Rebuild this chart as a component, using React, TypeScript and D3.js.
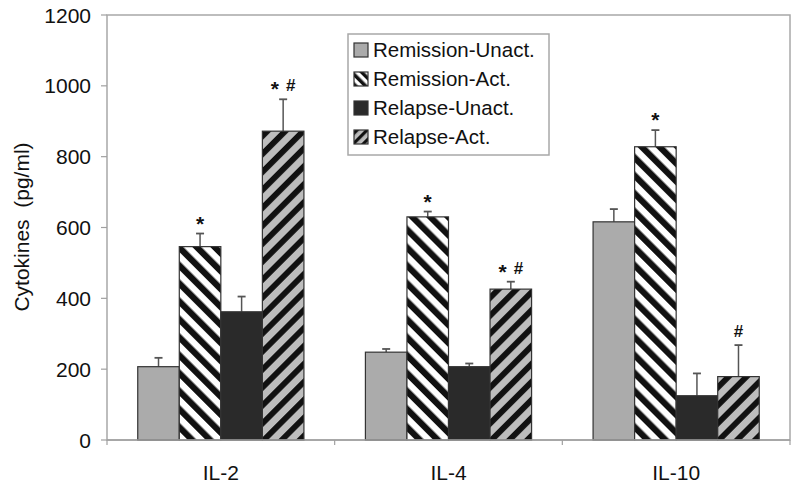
import React from "react";
import * as d3 from "d3";

const groups = ["IL-2", "IL-4", "IL-10"];
const series = ["Remission-Unact.", "Remission-Act.", "Relapse-Unact.", "Relapse-Act."];
const remissionUnact = [207, 248, 616];
const remissionAct = [546, 630, 828];
const relapseUnact = [362, 207, 125];
const relapseAct = [872, 426, 179];
const remissionUnactErr = [25, 9, 36];
const remissionActErr = [37, 15, 47];
const relapseUnactErr = [43, 9, 63];
const relapseActErr = [90, 21, 89];
const marks = [
  ["", "*", "", "* #"],
  ["", "*", "", "* #"],
  ["", "*", "", "#"],
];
const yTicks = [0, 200, 400, 600, 800, 1000, 1200];

const values = [remissionUnact, remissionAct, relapseUnact, relapseAct];
const errors = [remissionUnactErr, remissionActErr, relapseUnactErr, relapseActErr];
const fills = ["#ababab", "url(#hatchA)", "#2a2a2a", "url(#hatchB)"];

const W = 800, H = 490;
const left = 107, right = 790, top = 15, bottom = 440;
const FONT = "'Liberation Sans', Arial, sans-serif";

export default function App() {
  const y = d3.scaleLinear().domain([0, 1200]).range([bottom, top]);
  const x0 = d3.scaleBand<string>().domain(groups).range([left, right]);
  const x1 = d3.scaleBand<string>().domain(series).range([0, x0.bandwidth()]).paddingOuter(0.74);

  const renderMark = (s: string) => {
    const parts = s.split(" ");
    return parts.map((p, i) => (
      <tspan key={i} dx={i === 0 ? 0 : 7} dy={p === "*" ? (i === 0 ? 5 : 0) : (i > 0 && parts[i - 1] === "*" ? -5 : 0)}
        fontSize={p === "*" ? 21 : 17}>{p}</tspan>
    ));
  };

  return (
    <svg width={W} height={H} style={{ position: "absolute", left: 0, top: 0 }} fontFamily={FONT}>
      <defs>
        <pattern id="hatchA" patternUnits="userSpaceOnUse" width={12.7} height={12.7} patternTransform="rotate(-45)">
          <rect width={12.7} height={12.7} fill="#ffffff" />
          <rect width={6.3} height={12.7} fill="#111" />
        </pattern>
        <pattern id="hatchB" patternUnits="userSpaceOnUse" width={12.7} height={12.7} patternTransform="rotate(45)">
          <rect width={12.7} height={12.7} fill="#bdbdbd" />
          <rect width={5.8} height={12.7} fill="#111" />
        </pattern>
        <pattern id="hatchAs" patternUnits="userSpaceOnUse" width={7} height={7} patternTransform="rotate(-45)">
          <rect width={7} height={7} fill="#ffffff" />
          <rect width={3.5} height={7} fill="#111" />
        </pattern>
        <pattern id="hatchBs" patternUnits="userSpaceOnUse" width={7} height={7} patternTransform="rotate(45)">
          <rect width={7} height={7} fill="#bdbdbd" />
          <rect width={3.2} height={7} fill="#111" />
        </pattern>
      </defs>
      <rect x={0} y={0} width={W} height={H} fill="#fff" />
      {/* plot frame */}
      <rect x={left} y={top} width={right - left} height={bottom - top} fill="none" stroke="#a8a8a8" strokeWidth={1.5} />
      {/* y ticks */}
      {yTicks.map((t) => (
        <g key={t}>
          <line x1={left - 6} x2={left} y1={y(t)} y2={y(t)} stroke="#a0a0a0" strokeWidth={1.2} />
          <text x={91} y={y(t)} dy="0.36em" textAnchor="end" fontSize={21} fill="#111">{t}</text>
        </g>
      ))}
      {/* x ticks */}
      {groups.map((g) => (
        <line key={g} x1={x0(g)!} x2={x0(g)!} y1={bottom} y2={bottom + 5} stroke="#a0a0a0" strokeWidth={1.2} />
      ))}
      <line x1={right} x2={right} y1={bottom} y2={bottom + 5} stroke="#a0a0a0" strokeWidth={1.2} />
      {/* bars */}
      {groups.map((g, gi) => (
        <g key={g} transform={`translate(${x0(g)},0)`}>
          {series.map((s, si) => {
            const v = values[si][gi];
            const e = errors[si][gi];
            const bx = x1(s)!;
            const bw = x1.bandwidth();
            const cx = bx + bw / 2;
            const et = y(v + e);
            return (
              <g key={s}>
                <line x1={cx} x2={cx} y1={y(v)} y2={et} stroke="#555" strokeWidth={1.5} />
                <line x1={cx - 4} x2={cx + 4} y1={et} y2={et} stroke="#555" strokeWidth={1.8} />
                <rect x={bx} y={y(v)} width={bw} height={bottom - y(v)} fill={fills[si]} stroke="#333" strokeWidth={1.2} />
                {marks[gi][si] && (
                  <text x={cx} y={et - 8} textAnchor="middle" fontWeight="bold" fill="#111">
                    {renderMark(marks[gi][si])}
                  </text>
                )}
              </g>
            );
          })}
        </g>
      ))}
      {/* baseline */}
      <line x1={left} x2={right} y1={bottom} y2={bottom} stroke="#a0a0a0" strokeWidth={1.5} />
      {/* x labels */}
      {groups.map((g) => (
        <text key={g} x={x0(g)! + x0.bandwidth() / 2} y={480} textAnchor="middle" fontSize={21} fill="#111">{g}</text>
      ))}
      {/* y title */}
      <text transform={`translate(29,${227}) rotate(-90)`} textAnchor="middle" fontSize={21} fill="#111" xmlSpace="preserve">Cytokines  (pg/ml)</text>
      {/* legend */}
      <rect x={348} y={34} width={201} height={121} fill="#fff" stroke="#a8a8a8" strokeWidth={1.5} />
      {series.map((s, si) => {
        const ly = 50 + si * 29;
        const sf = si === 1 ? "url(#hatchAs)" : si === 3 ? "url(#hatchBs)" : fills[si];
        return (
          <g key={s}>
            <rect x={354} y={ly - 7} width={14} height={14} fill={sf} stroke="#333" strokeWidth={1.2} />
            <text x={373} y={ly} dy="0.36em" fontSize={20.5} fill="#111">{s}</text>
          </g>
        );
      })}
    </svg>
  );
}
